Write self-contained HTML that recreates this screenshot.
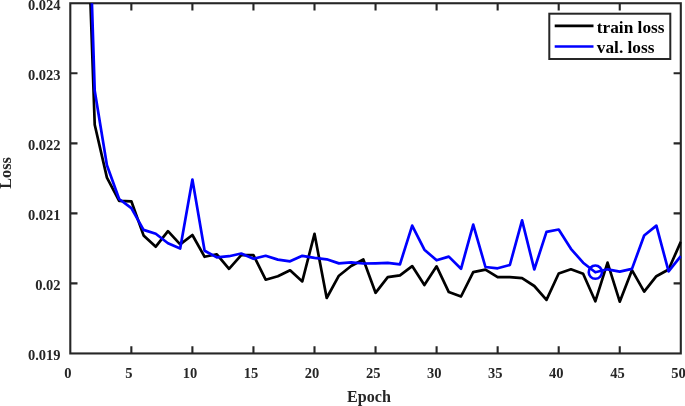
<!DOCTYPE html>
<html><head><meta charset="utf-8"><title>Loss</title>
<style>
html,body{margin:0;padding:0;background:#fff;}
body{width:685px;height:406px;overflow:hidden;}
svg{display:block;}
text{font-family:"Liberation Serif",serif;font-weight:bold;font-size:14.5px;fill:#262626;}
.ax path,.ax rect{stroke:#262626;stroke-width:2.1;fill:none;}
</style></head><body>
<svg width="685" height="406" viewBox="0 0 685 406">
<rect width="685" height="406" fill="#fff"/>
<defs><clipPath id="c"><rect x="70.3" y="3.25" width="611.2" height="350.2"/></clipPath></defs>
<g class="ax">
<rect x="70.3" y="3.25" width="610.5" height="350.2"/>
<path d="M131.35 353.45v-7.2M131.35 3.25v7.2"/><path d="M192.40 353.45v-7.2M192.40 3.25v7.2"/><path d="M253.45 353.45v-7.2M253.45 3.25v7.2"/><path d="M314.50 353.45v-7.2M314.50 3.25v7.2"/><path d="M375.55 353.45v-7.2M375.55 3.25v7.2"/><path d="M436.60 353.45v-7.2M436.60 3.25v7.2"/><path d="M497.65 353.45v-7.2M497.65 3.25v7.2"/><path d="M558.70 353.45v-7.2M558.70 3.25v7.2"/><path d="M619.75 353.45v-7.2M619.75 3.25v7.2"/>
<path d="M70.3 73.29h7.2M680.8 73.29h-7.2"/><path d="M70.3 143.33h7.2M680.8 143.33h-7.2"/><path d="M70.3 213.37h7.2M680.8 213.37h-7.2"/><path d="M70.3 283.41h7.2M680.8 283.41h-7.2"/>
</g>
<g clip-path="url(#c)" fill="none" stroke-width="2.7" stroke-linejoin="round">
<polyline stroke="#000" points="82.51,-225.0 94.72,124.8 106.93,177.6 119.14,200.8 131.35,201.3 143.56,235.4 155.77,246.7 167.98,231.2 180.19,244.4 192.40,235.0 204.61,256.8 216.82,254.3 229.03,268.8 241.24,255.1 253.45,255.1 265.66,279.7 277.87,276.2 290.08,270.3 302.29,281.4 314.50,233.8 326.71,298.0 338.92,275.7 351.13,266.0 363.34,259.5 375.55,292.8 387.76,277.2 399.97,275.3 412.18,266.1 424.39,285.0 436.60,266.3 448.81,292.1 461.02,296.5 473.23,272.1 485.44,269.6 497.65,277.2 509.86,277.2 522.07,278.2 534.28,286.0 546.49,299.9 558.70,273.5 570.91,269.3 583.12,273.7 595.33,301.3 607.54,262.6 619.75,301.7 631.96,270.2 644.17,291.6 656.38,276.2 668.59,269.5 680.80,241.8"/>
<polyline stroke="#0000ff" points="82.51,-292.0 94.72,90.7 106.93,165.3 119.14,199.0 131.35,208.1 143.56,229.9 155.77,233.8 167.98,243.2 180.19,248.5 192.40,179.5 204.61,250.7 216.82,257.4 229.03,256.2 241.24,253.5 253.45,258.8 265.66,255.8 277.87,259.6 290.08,261.3 302.29,255.8 314.50,257.8 326.71,259.3 338.92,263.4 351.13,262.3 363.34,263.5 375.55,263.3 387.76,262.9 399.97,264.3 412.18,225.6 424.39,249.7 436.60,260.3 448.81,256.6 461.02,268.8 473.23,224.6 485.44,267.0 497.65,268.3 509.86,265.0 522.07,220.3 534.28,269.5 546.49,231.9 558.70,229.5 570.91,248.8 583.12,262.7 595.33,272.3 607.54,269.3 619.75,271.6 631.96,268.9 644.17,235.5 656.38,225.6 668.59,271.4 680.80,256.1"/>
<circle cx="595.35" cy="272.15" r="6.6" stroke="#0000ff" stroke-width="2.6"/>
</g>
<g><text x="60.6" y="9.8" text-anchor="end">0.024</text><text x="60.6" y="79.8" text-anchor="end">0.023</text><text x="60.6" y="149.9" text-anchor="end">0.022</text><text x="60.6" y="219.9" text-anchor="end">0.021</text><text x="60.6" y="290.0" text-anchor="end">0.02</text><text x="60.6" y="360.0" text-anchor="end">0.019</text></g>
<g><text x="67.9" y="377.8" text-anchor="middle">0</text><text x="128.9" y="377.8" text-anchor="middle">5</text><text x="190.0" y="377.8" text-anchor="middle">10</text><text x="251.0" y="377.8" text-anchor="middle">15</text><text x="312.1" y="377.8" text-anchor="middle">20</text><text x="373.2" y="377.8" text-anchor="middle">25</text><text x="434.2" y="377.8" text-anchor="middle">30</text><text x="495.3" y="377.8" text-anchor="middle">35</text><text x="556.3" y="377.8" text-anchor="middle">40</text><text x="617.4" y="377.8" text-anchor="middle">45</text><text x="678.4" y="377.8" text-anchor="middle">50</text></g>
<text x="369" y="401.7" text-anchor="middle" style="font-size:16.1px">Epoch</text>
<text transform="translate(11.25,173.0) rotate(-90)" text-anchor="middle" style="font-size:16.2px">Loss</text>
<rect x="549.3" y="13.7" width="121" height="45.3" fill="#fff" stroke="#262626" stroke-width="2"/>
<path d="M554.7 25.9H593.5" stroke="#000" stroke-width="2.7"/>
<path d="M554.7 46.5H593.5" stroke="#0000ff" stroke-width="2.7"/>
<text x="596.8" y="32.5" style="font-size:17.3px;fill:#000">train loss</text>
<text x="596.8" y="52.7" style="font-size:17.3px;fill:#000">val. loss</text>
</svg>
</body></html>
